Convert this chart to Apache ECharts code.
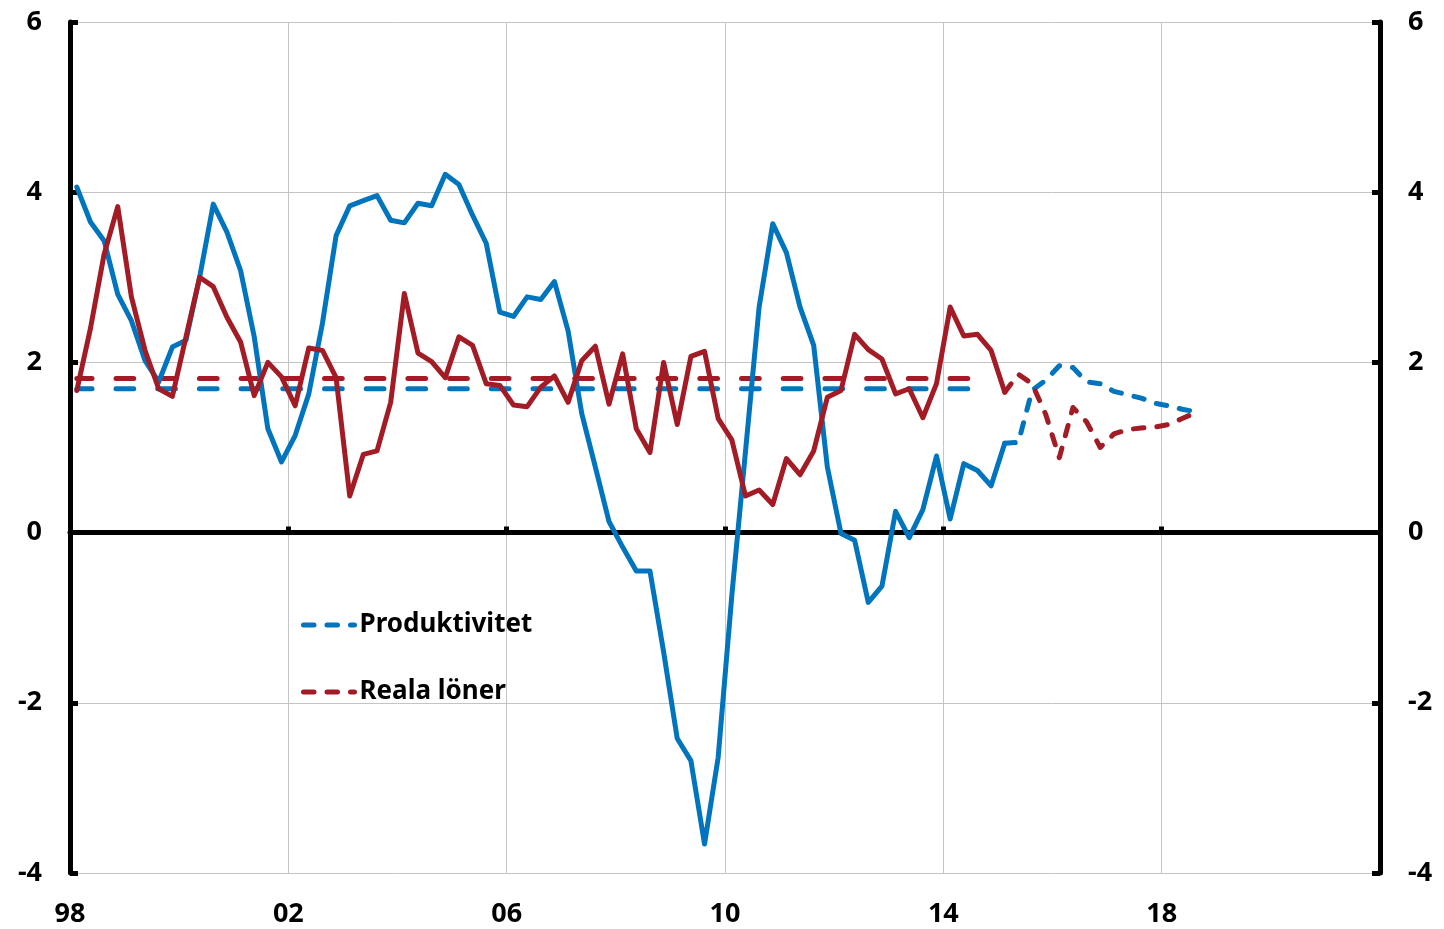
<!DOCTYPE html>
<html>
<head>
<meta charset="utf-8">
<script src="https://cdn.jsdelivr.net/npm/echarts@6/dist/echarts.min.js"></script>
<style>
  html, body { margin: 0; padding: 0; background: #fff; }
  #chart { width: 1444px; height: 929px; }
</style>
</head>
<body>
<div id="chart"></div>
<script>
// quarterly data, first quarter = 1998 Q1
const startYear = 1998;
const yearTicks = ['98', '02', '06', '10', '14', '18'];

// Produktivitet, outcome 1998Q1 - 2015Q1
const prodOutcome = [
  4.06, 3.65, 3.43, 2.80, 2.49, 2.02, 1.77, 2.18, 2.26, 3.00,
  3.86, 3.53, 3.08, 2.30, 1.22, 0.83, 1.14, 1.63, 2.46, 3.49,
  3.84, 3.90, 3.96, 3.67, 3.64, 3.87, 3.84, 4.21, 4.09, 3.73,
  3.40, 2.59, 2.54, 2.77, 2.74, 2.95, 2.37, 1.40, 0.77, 0.13,
  -0.17, -0.45, -0.45, -1.40, -2.42, -2.68, -3.66, -2.64, -0.74, 0.95,
  2.65, 3.63, 3.29, 2.65, 2.20, 0.77, -0.01, -0.09, -0.82, -0.63,
  0.25, -0.06, 0.27, 0.90, 0.16, 0.81, 0.73, 0.55, 1.05
];
// Produktivitet, forecast 2015Q1 - 2018Q3
const prodForecast = [
  1.05, 1.06, 1.67, 1.79, 1.96, 1.94, 1.77, 1.75, 1.66, 1.62,
  1.58, 1.52, 1.49, 1.45, 1.42
];
// Reala löner, outcome 1998Q1 - 2015Q1
const wageOutcome = [
  1.67, 2.40, 3.27, 3.83, 2.77, 2.14, 1.69, 1.60, 2.30, 3.00,
  2.89, 2.53, 2.24, 1.61, 2.00, 1.83, 1.49, 2.17, 2.14, 1.82,
  0.43, 0.92, 0.96, 1.53, 2.81, 2.11, 2.01, 1.82, 2.30, 2.20,
  1.75, 1.73, 1.50, 1.48, 1.71, 1.84, 1.53, 2.02, 2.19, 1.51,
  2.10, 1.22, 0.94, 2.00, 1.27, 2.07, 2.13, 1.34, 1.09, 0.43,
  0.50, 0.33, 0.87, 0.68, 0.96, 1.59, 1.67, 2.33, 2.15, 2.04,
  1.63, 1.69, 1.35, 1.75, 2.65, 2.31, 2.33, 2.14, 1.65
];
// Reala löner, forecast 2015Q1 - 2018Q3
const wageForecast = [
  1.65, 1.86, 1.75, 1.39, 0.88, 1.47, 1.30, 1.00, 1.16, 1.21,
  1.23, 1.24, 1.27, 1.34, 1.41
];
// averages 1998Q1 - 2014Q4
const avgQuarters = 68;
const prodAverage = 1.69;
const wageAverage = 1.81;

const forecastStart = prodOutcome.length - 1;

// quarter index -> decimal year at mid quarter
function qx(i) { return startYear + (i + 0.5) / 4; }
function toPoints(values, offset) {
  return values.map((v, i) => [qx(i + offset), v]);
}
function flat(value, n) {
  const out = [];
  for (let i = 0; i < n; i++) out.push([qx(i), value]);
  return out;
}

const blue = '#0074bd';
const red = '#a31c25';
const font = 'Noto Sans';
const lw = 5;
const forecastDash = [10.5, 13];
const avgDash = [17.7, 24];

const chart = echarts.init(document.getElementById('chart'));

const axisLabel = { fontFamily: font, fontWeight: 'bold', fontSize: 27, color: '#000', lineHeight: 28 };

function yAxis(pos) {
  return {
    type: 'value', position: pos, min: -4, max: 6, interval: 2,
    axisLine: { show: true, lineStyle: { color: '#000', width: 5 } },
    axisTick: { show: true, inside: true, length: 8, lineStyle: { color: '#000', width: 5 } },
    axisLabel: Object.assign({ margin: 28 }, axisLabel),
    splitLine: { show: pos === 'left', lineStyle: { color: '#c4c4c4', width: 1 } }
  };
}

function line(name, data, color, dash, z, offset) {
  return {
    name: name, type: 'line', data: data, symbol: 'none', silent: true, z: z,
    xAxisIndex: 0, yAxisIndex: 0,
    lineStyle: { color: color, width: lw, type: dash || 'solid', cap: 'round', join: 'round', dashOffset: offset || 0 },
    animation: false
  };
}

chart.setOption({
  animation: false,
  grid: { left: 70, right: 64, top: 22, bottom: 56, containLabel: false, outerBoundsMode: 'none' },
  xAxis: [
    {
      type: 'value', position: 'bottom', min: 1998, max: 2022, interval: 4,
      axisLine: { show: false, onZero: false },
      axisTick: { show: false },
      axisLabel: Object.assign({
        margin: 27, showMaxLabel: false,
        formatter: v => yearTicks[Math.round((v - startYear) / 4)] || ''
      }, axisLabel),
      splitLine: { show: true, lineStyle: { color: '#c4c4c4', width: 1 } }
    },
    {
      type: 'value', position: 'bottom', min: 1998, max: 2022, interval: 4,
      axisLine: { show: true, onZero: true, onZeroAxisIndex: 0, lineStyle: { color: '#000', width: 5 } },
      axisTick: { show: true, inside: true, length: 6, lineStyle: { color: '#000', width: 5 } },
      axisLabel: { show: false },
      splitLine: { show: false }
    }
  ],
  yAxis: [yAxis('left'), yAxis('right')],
  legend: {
    orient: 'vertical', left: 301, top: 610, padding: 0,
    itemWidth: 51, itemHeight: 2, itemGap: 37,
    selectedMode: false,
    textStyle: { fontFamily: font, fontWeight: 'bold', fontSize: 26, color: '#000', lineHeight: 30 },
    data: [
      { name: 'Produktivitet', itemStyle: { opacity: 0 },
        lineStyle: { color: blue, width: lw, type: forecastDash, cap: 'round' } },
      { name: 'Reala löner', itemStyle: { opacity: 0 },
        lineStyle: { color: red, width: lw, type: forecastDash, cap: 'round' } }
    ]
  },
  series: [
    line('Produktivitet, snitt', flat(prodAverage, avgQuarters), blue, avgDash, 2, 2.5),
    line('Reala löner, snitt', flat(wageAverage, avgQuarters), red, avgDash, 2, 2.5),
    line('Produktivitet', toPoints(prodOutcome, 0), blue, null, 3),
    line('Produktivitet', toPoints(prodForecast, forecastStart), blue, forecastDash, 3),
    line('Reala löner', toPoints(wageOutcome, 0), red, null, 4),
    line('Reala löner', toPoints(wageForecast, forecastStart), red, forecastDash, 4)
  ]
});
</script>
</body>
</html>
